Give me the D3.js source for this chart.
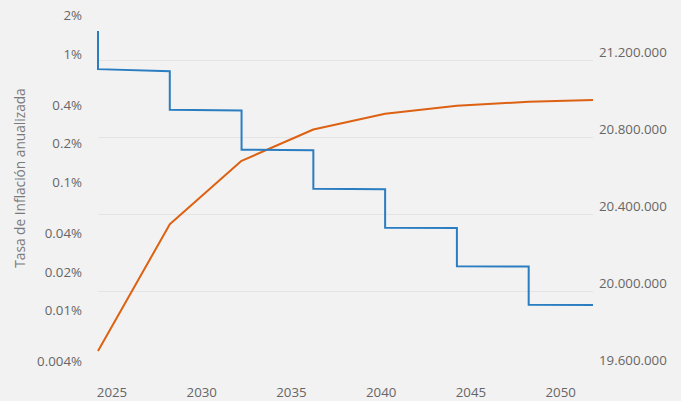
<!DOCTYPE html>
<html>
<head>
<meta charset="utf-8">
<script src="https://cdn.jsdelivr.net/npm/d3@7/dist/d3.min.js"></script>
<style>
  html, body { margin: 0; padding: 0; background: #f2f2f2; }
  svg { display: block; }
  text { font-family: "Open Sans", "DejaVu Sans", sans-serif; }
</style>
</head>
<body>
<svg id="chart" width="681" height="401"></svg>
<script>
// Halving dates (start of each issuance epoch) and the end of the series
const halvingDates = ["2024-04-01", "2028-04-01", "2032-04-01", "2036-04-01", "2040-04-01", "2044-04-01", "2048-04-01"];
const endDate = "2051-11-01";

// Annualised inflation rate (%) just before the first halving shown
const priorRate = 1.69;
// Annualised inflation rate (%) at the opening and closing of each epoch
const rateOpen  = [0.85, 0.41, 0.2, 0.0993, 0.0493, 0.0247, 0.01235];
const rateClose = [0.82, 0.405, 0.198, 0.0985, 0.049, 0.0245, 0.0123];

// Circulating supply (BTC) at each halving and at the series end
const supplyDates = [...halvingDates, endDate];
const supply = [19686000, 20345000, 20675000, 20838000, 20920000, 20962000, 20982000, 20991000];

// Axis ticks
const rateTicks = [0.004, 0.01, 0.02, 0.04, 0.1, 0.2, 0.4, 1, 2];
const rateTickLabels = ["0.004%", "0.01%", "0.02%", "0.04%", "0.1%", "0.2%", "0.4%", "1%", "2%"];
const supplyTicks = [19600000, 20000000, 20400000, 20800000, 21200000];
const yearTicks = [2025, 2030, 2035, 2040, 2045, 2050];

const parse = d3.utcParse("%Y-%m-%d");
const svg = d3.select("#chart");

const plot = { left: 98, right: 593, top: 21.5, bottom: 367.5 };

const x = d3.scaleUtc()
  .domain([parse(halvingDates[0]), parse(endDate)])
  .range([plot.left, plot.right]);

const yRate = d3.scaleLog()
  .domain([0.004, 2])
  .range([plot.bottom, plot.top]);

const ySupply = d3.scaleLinear()
  .domain([19600000, 21400000])
  .range([plot.bottom, plot.top]);

// Horizontal gridlines follow the supply axis
svg.append("g")
  .selectAll("line")
  .data(supplyTicks.filter(d => d > 19600000))
  .join("line")
  .attr("x1", plot.left)
  .attr("x2", plot.right)
  .attr("y1", d => Math.round(ySupply(d)) + 0.5)
  .attr("y2", d => Math.round(ySupply(d)) + 0.5)
  .attr("stroke", "#e4e4e4")
  .attr("stroke-width", 1);

const fmtThousands = d3.formatLocale({ decimal: ",", thousands: ".", grouping: [3], currency: ["", ""] }).format(",.0f");

// Left axis: inflation rate (log)
const leftAxis = svg.append("g")
  .attr("transform", `translate(${plot.left - 16},0)`)
  .call(d3.axisLeft(yRate)
    .tickValues(rateTicks)
    .tickFormat((d, i) => rateTickLabels[i])
    .tickSize(0)
    .tickPadding(0));
leftAxis.select(".domain").remove();
leftAxis.selectAll("text")
  .attr("dy", null)
  .attr("y", -1.8)
  .attr("fill", "#666666")
  .style("font-size", "13.3px")
  .style("font-family", "'Open Sans', sans-serif");

// Right axis: supply
const rightAxis = svg.append("g")
  .attr("transform", `translate(${plot.right + 6},0)`)
  .call(d3.axisRight(ySupply)
    .tickValues(supplyTicks)
    .tickFormat(fmtThousands)
    .tickSize(0)
    .tickPadding(0));
rightAxis.select(".domain").remove();
rightAxis.selectAll("text")
  .attr("dy", null)
  .attr("y", -3)
  .attr("fill", "#666666")
  .style("font-size", "13.3px")
  .style("font-family", "'Open Sans', sans-serif");

// Bottom axis: years
const bottomAxis = svg.append("g")
  .attr("transform", `translate(0,${plot.bottom})`)
  .call(d3.axisBottom(x)
    .tickValues(yearTicks.map(y => new Date(Date.UTC(y, 0, 1))))
    .tickFormat(d3.utcFormat("%Y"))
    .tickSize(0)
    .tickPadding(0));
bottomAxis.select(".domain").remove();
bottomAxis.selectAll("text")
  .attr("dy", null)
  .attr("y", 29)
  .attr("fill", "#666666")
  .style("font-size", "13.3px")
  .style("font-family", "'Open Sans', sans-serif");

// Left axis title
svg.append("text")
  .attr("transform", "translate(25,178) rotate(-90)")
  .attr("text-anchor", "middle")
  .attr("fill", "#7a7a7a")
  .style("font-size", "13.7px")
  .text("Tasa de Inflación anualizada");

// Supply line (orange)
const supplyPoints = supplyDates.map((d, i) => ({ date: parse(d), value: supply[i] }));
svg.append("path")
  .datum(supplyPoints)
  .attr("fill", "none")
  .attr("stroke", "#dd6112")
  .attr("stroke-width", 2)
  .attr("stroke-linejoin", "round")
  .attr("d", d3.line().x(d => x(d.date)).y(d => ySupply(d.value)));

// Inflation-rate step line (blue): drop at every halving, slight decay within each epoch
const ratePoints = [{ date: parse(halvingDates[0]), value: priorRate }];
halvingDates.forEach((d, i) => {
  const next = i + 1 < halvingDates.length ? halvingDates[i + 1] : endDate;
  ratePoints.push({ date: parse(d), value: rateOpen[i] });
  ratePoints.push({ date: parse(next), value: rateClose[i] });
});
svg.append("path")
  .datum(ratePoints)
  .attr("fill", "none")
  .attr("stroke", "#2b7dc1")
  .attr("stroke-width", 2)
  .attr("stroke-linejoin", "miter")
  .attr("d", d3.line().x(d => x(d.date)).y(d => yRate(d.value)));
</script>
</body>
</html>
